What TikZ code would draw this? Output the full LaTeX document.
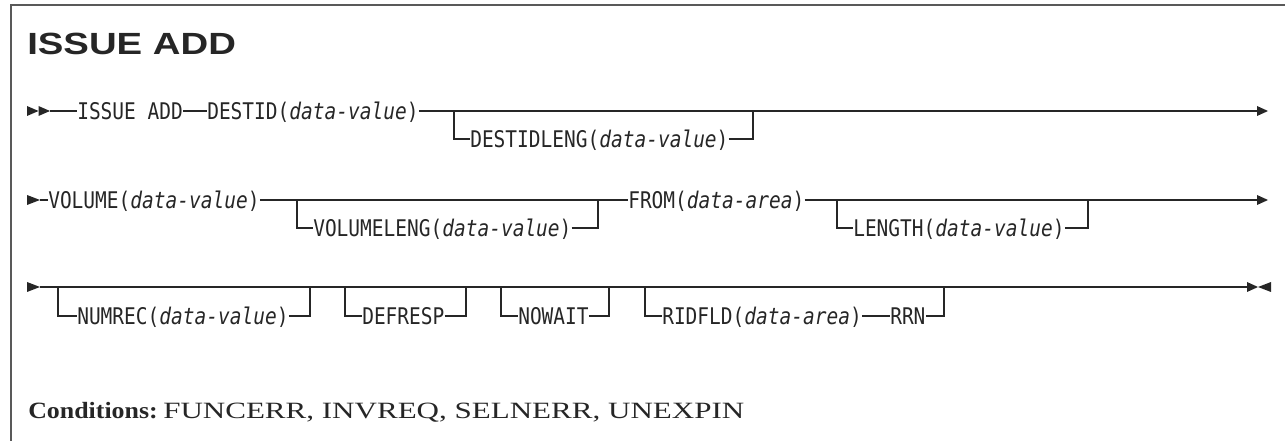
\documentclass[tikz,border=0pt]{standalone}
\usepackage{fontspec}
\usepackage{graphicx}
\newfontfamily\railfont[FakeStretch=0.85]{DejaVu Sans Mono}
\newfontfamily\titlefont{Liberation Sans}
\newfontfamily\condfont{Liberation Serif}
\begin{document}
\begin{tikzpicture}[x=0.75pt,y=-0.75pt,
  rail/.style={line width=1.1pt, draw=black!85},
  kw/.style={font=\railfont\fontsize{17.2}{20}\selectfont, inner sep=0pt, anchor=west,
             text height=12.5pt, text depth=0pt, text=black!85},
  tri/.style={fill=black!85},
  condtext/.style={font=\condfont\fontsize{17.5}{21}\selectfont, anchor=base west, inner sep=0pt, text=black!85}]
\useasboundingbox (0,0) rectangle (1285,441);
\draw[line width=1.4pt, draw=black!65] (11,441) -- (11,5) -- (1285,5);

\node[font=\titlefont\bfseries\fontsize{23}{28}\selectfont, anchor=base west, inner sep=0pt, text=black!85] (title) at (27,55) {\scalebox{1.25}[1]{ISSUE ADD}};

% Row 1
\fill[tri] (27,106) -- (38.5,111) -- (27,116) -- cycle;
\fill[tri] (38.5,106) -- (50,111) -- (38.5,116) -- cycle;
\coordinate (r1s) at (50,111);
\node[kw] (iss) at (77,111) {ISSUE ADD};
\node[kw] (destid) at (207,111) {DESTID(\textit{data-value})};
\coordinate (r1e) at (1257,111);
\fill[tri] (1257,106) -- (1268,111) -- (1257,116) -- cycle;
\draw[rail] (r1s) -- (iss.west) (iss.east) -- (destid.west) (destid.east) -- (r1e);
\node[kw] (dl) at (470,139) {DESTIDLENG(\textit{data-value})};
\coordinate (b1a) at (454,111); \coordinate (b1b) at (753,111);
\draw[rail] (b1a) |- (dl.west) (dl.east) -| (b1b);

% Row 2
\fill[tri] (27,195) -- (40,200) -- (27,205) -- cycle;
\coordinate (r2s) at (40,200);
\node[kw] (vol) at (48,200) {VOLUME(\textit{data-value})};
\node[kw] (from) at (628,200) {FROM(\textit{data-area})};
\coordinate (r2e) at (1257,200);
\fill[tri] (1257,195) -- (1268,200) -- (1257,205) -- cycle;
\draw[rail] (r2s) -- (vol.west) (vol.east) -- (from.west) (from.east) -- (r2e);
\node[kw] (vl) at (313,228) {VOLUMELENG(\textit{data-value})};
\coordinate (b2a) at (297,200); \coordinate (b2b) at (598,200);
\draw[rail] (b2a) |- (vl.west) (vl.east) -| (b2b);
\node[kw] (len) at (853,228) {LENGTH(\textit{data-value})};
\coordinate (b3a) at (837,200); \coordinate (b3b) at (1088,200);
\draw[rail] (b3a) |- (len.west) (len.east) -| (b3b);

% Row 3
\fill[tri] (27,282) -- (40,287) -- (27,292) -- cycle;
\coordinate (r3s) at (40,287);
\coordinate (r3e) at (1247,287);
\fill[tri] (1247,282) -- (1258,287) -- (1247,292) -- cycle;
\fill[tri] (1271,282) -- (1258,287) -- (1271,292) -- cycle;
\draw[rail] (r3s) -- (r3e);
\node[kw] (num) at (77,316) {NUMREC(\textit{data-value})};
\coordinate (c1a) at (58,287); \coordinate (c1b) at (310,287);
\draw[rail] (c1a) |- (num.west) (num.east) -| (c1b);
\node[kw] (def) at (362,316) {DEFRESP};
\coordinate (c2a) at (345,287); \coordinate (c2b) at (466,287);
\draw[rail] (c2a) |- (def.west) (def.east) -| (c2b);
\node[kw] (now) at (518,316) {NOWAIT};
\coordinate (c3a) at (501,287); \coordinate (c3b) at (609,287);
\draw[rail] (c3a) |- (now.west) (now.east) -| (c3b);
\node[kw] (rid) at (662,316) {RIDFLD(\textit{data-area})};
\node[kw] (rrn) at (890,316) {RRN};
\coordinate (c4a) at (645,287); \coordinate (c4b) at (944,287);
\draw[rail] (c4a) |- (rid.west) (rid.east) -- (rrn.west) (rrn.east) -| (c4b);

% Conditions
\node[condtext] (condlbl) at (28,418) {\scalebox{1.11}[1]{\bfseries Conditions:}};
\node[condtext] (condlist) at (163,418) {\scalebox{1.33}[1]{FUNCERR, INVREQ, SELNERR, UNEXPIN}};
\end{tikzpicture}
\end{document}
